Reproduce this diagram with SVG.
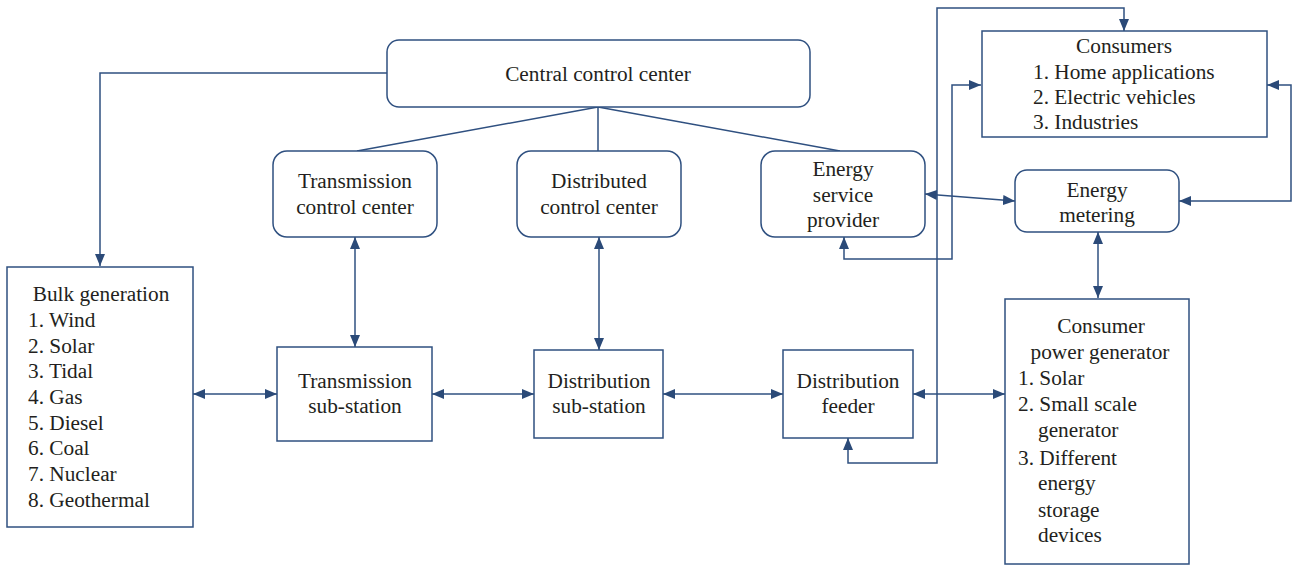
<svg xmlns="http://www.w3.org/2000/svg" width="1294" height="565" viewBox="0 0 1294 565">
<style>
.box{fill:#fff;stroke:#2f5080;stroke-width:1.5}
.t{font-family:"Liberation Serif","Times New Roman",serif;font-size:21.3px;fill:#231f20}
.c{text-anchor:middle}
.ln{fill:none;stroke:#2f5080;stroke-width:1.5}
</style>
<defs>
<marker id="ah" viewBox="0 0 12 10" refX="12" refY="5" markerWidth="12" markerHeight="10" markerUnits="userSpaceOnUse" orient="auto-start-reverse">
<path d="M0,0 L12,5 L0,10 Z" fill="#2b4a78"/>
</marker>
</defs>
<rect width="1294" height="565" fill="#fff"/>
<g id="connectors">
<path class="ln" d="M598,107 L357,151 M598,107 L598,151 M598,107 L840,151"/>
<path class="ln" d="M387,73 H100 V266" marker-end="url(#ah)"/>
<path class="ln" d="M355,237 V347" marker-start="url(#ah)" marker-end="url(#ah)"/>
<path class="ln" d="M599,237 V350" marker-start="url(#ah)" marker-end="url(#ah)"/>
<path class="ln" d="M193,394 H277" marker-start="url(#ah)" marker-end="url(#ah)"/>
<path class="ln" d="M432,394 H534" marker-start="url(#ah)" marker-end="url(#ah)"/>
<path class="ln" d="M663,394 H783" marker-start="url(#ah)" marker-end="url(#ah)"/>
<path class="ln" d="M913,394 H1005" marker-start="url(#ah)" marker-end="url(#ah)"/>
<path class="ln" d="M1098,232 V298" marker-start="url(#ah)" marker-end="url(#ah)"/>
<path class="ln" d="M925,194 L1015,201" marker-start="url(#ah)" marker-end="url(#ah)"/>
<path class="ln" d="M1267,85 H1291 V201 H1179" marker-start="url(#ah)" marker-end="url(#ah)"/>
<path class="ln" d="M844,237 V259 H952 V85 H981" marker-start="url(#ah)" marker-end="url(#ah)"/>
<path class="ln" d="M848,438 V463 H937 V8 H1124 V31" marker-start="url(#ah)" marker-end="url(#ah)"/>
</g>
<g id="central-control-center">
<rect class="box" x="387" y="40" width="423" height="67" rx="12"/>
<text class="t c" x="598" y="81">Central control center</text>
</g>
<g id="transmission-control-center">
<rect class="box" x="273" y="151" width="164" height="86" rx="14"/>
<text class="t c" x="355" y="188">Transmission</text>
<text class="t c" x="355" y="214">control center</text>
</g>
<g id="distributed-control-center">
<rect class="box" x="517" y="151" width="164" height="86" rx="14"/>
<text class="t c" x="599" y="188">Distributed</text>
<text class="t c" x="599" y="214">control center</text>
</g>
<g id="energy-service-provider">
<rect class="box" x="761" y="151" width="164" height="86" rx="14"/>
<text class="t c" x="843" y="176">Energy</text>
<text class="t c" x="843" y="202">service</text>
<text class="t c" x="843" y="227">provider</text>
</g>
<g id="consumers">
<rect class="box" x="982" y="31" width="285" height="106"/>
<text class="t c" x="1124" y="53">Consumers</text>
<text class="t" x="1033" y="79">1. Home applications</text>
<text class="t" x="1033" y="104">2. Electric vehicles</text>
<text class="t" x="1033" y="129">3. Industries</text>
</g>
<g id="energy-metering">
<rect class="box" x="1015" y="170" width="164" height="62" rx="12"/>
<text class="t c" x="1097" y="197">Energy</text>
<text class="t c" x="1097" y="222">metering</text>
</g>
<g id="bulk-generation">
<rect class="box" x="7" y="267" width="186" height="260"/>
<text class="t c" x="101" y="301">Bulk generation</text>
<text class="t" x="28" y="327">1. Wind</text>
<text class="t" x="28" y="353">2. Solar</text>
<text class="t" x="28" y="378">3. Tidal</text>
<text class="t" x="28" y="404">4. Gas</text>
<text class="t" x="28" y="430">5. Diesel</text>
<text class="t" x="28" y="455">6. Coal</text>
<text class="t" x="28" y="481">7. Nuclear</text>
<text class="t" x="28" y="507">8. Geothermal</text>
</g>
<g id="transmission-sub-station">
<rect class="box" x="277" y="347" width="155" height="94"/>
<text class="t c" x="355" y="388">Transmission</text>
<text class="t c" x="355" y="413">sub-station</text>
</g>
<g id="distribution-sub-station">
<rect class="box" x="534" y="350" width="129" height="88"/>
<text class="t c" x="599" y="388">Distribution</text>
<text class="t c" x="599" y="413">sub-station</text>
</g>
<g id="distribution-feeder">
<rect class="box" x="783" y="350" width="130" height="88"/>
<text class="t c" x="848" y="388">Distribution</text>
<text class="t c" x="848" y="413">feeder</text>
</g>
<g id="consumer-power-generator">
<rect class="box" x="1005" y="299" width="184" height="265"/>
<text class="t c" x="1101" y="333">Consumer</text>
<text class="t c" x="1100" y="359">power generator</text>
<text class="t" x="1018" y="385">1. Solar</text>
<text class="t" x="1018" y="411">2. Small scale</text>
<text class="t" x="1038" y="437">generator</text>
<text class="t" x="1018" y="465">3. Different</text>
<text class="t" x="1038" y="490">energy</text>
<text class="t" x="1038" y="517">storage</text>
<text class="t" x="1038" y="542">devices</text>
</g>
</svg>
